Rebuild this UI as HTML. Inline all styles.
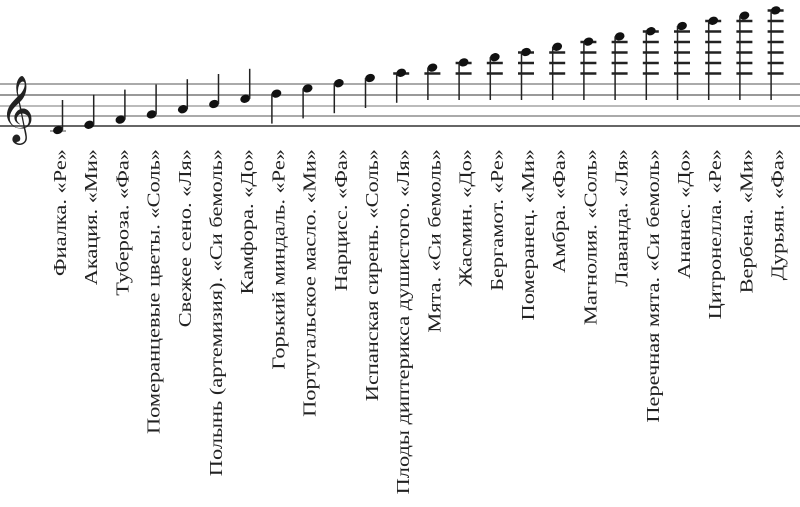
<!DOCTYPE html>
<html><head><meta charset="utf-8"><style>html,body{margin:0;padding:0;background:#fff;}svg{display:block}</style></head>
<body>
<svg width="800" height="507" xmlns="http://www.w3.org/2000/svg">
<g stroke-width="2">
<line x1="0" y1="84" x2="800" y2="84" stroke="#aaa"/>
<line x1="0" y1="95" x2="800" y2="95" stroke="#999"/>
<line x1="0" y1="106" x2="800" y2="106" stroke="#bbb"/>
<line x1="0" y1="116" x2="800" y2="116" stroke="#aaa"/>
<line x1="0" y1="126" x2="800" y2="126" stroke="#666"/>
</g>
<text x="0" y="128" font-family="DejaVu Sans, sans-serif" font-size="58" fill="#222">𝄞</text>
<g id="notes" fill="#111" stroke="#222"></g>
<g font-family="Liberation Serif, serif" font-size="17.5" fill="#222" id="labels"></g>
<script>
var names=["Фиалка. «Ре»","Акация. «Ми»","Тубероза. «Фа»","Померанцевые цветы. «Соль»","Свежее сено. «Ля»","Полынь (артемизия). «Си бемоль»","Камфора. «До»","Горький миндаль. «Ре»","Португальское масло. «Ми»","Нарцисс. «Фа»","Испанская сирень. «Соль»","Плоды диптерикса душистого. «Ля»","Мята. «Си бемоль»","Жасмин. «До»","Бергамот. «Ре»","Померанец. «Ми»","Амбра. «Фа»","Магнолия. «Соль»","Лаванда. «Ля»","Перечная мята. «Си бемоль»","Ананас. «До»","Цитронелла. «Ре»","Вербена. «Ми»","Дурьян. «Фа»"];
var ns="http://www.w3.org/2000/svg",N=document.getElementById("notes"),L=document.getElementById("labels");
function el(t,a,p){var e=document.createElementNS(ns,t);for(var k in a)e.setAttribute(k,a[k]);p.appendChild(e);return e;}
for(var i=0;i<24;i++){
 var x=58+i*31.2,y=130-5.2*i;
 for(var ly=73.5;ly>=y-2;ly-=10.5){el("line",{x1:x-8,y1:ly,x2:x+8,y2:ly,"stroke-width":2.5,stroke:"#222"},N);}
 if(y>128)el("line",{x1:x-8,y1:131,x2:x+8,y2:131,"stroke-width":1.5,stroke:"#888"},N);
 el("ellipse",{cx:x,cy:y,rx:5,ry:4,transform:"rotate(-20 "+x+" "+y+")",stroke:"none"},N);
 if(i<7)el("line",{x1:x+4.5,y1:y,x2:x+4.5,y2:y-30,"stroke-width":1.5},N);
 else el("line",{x1:x-4.5,y1:y,x2:x-4.5,y2:Math.max(y+30,100),"stroke-width":1.5},N);
 var bx=x+8,t=el("text",{x:0,y:0,"text-anchor":"end",transform:"translate("+bx+",149) rotate(-90) scale(1.28,1)"},L);
 t.textContent=names[i];
}
</script>
</svg>
</body></html>
